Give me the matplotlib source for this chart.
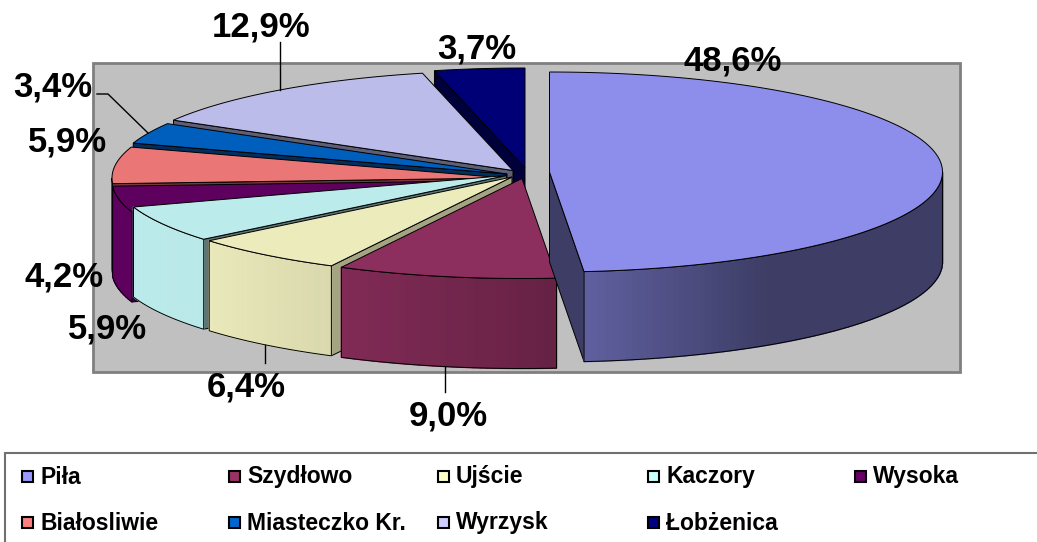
import numpy as np
import matplotlib
matplotlib.use("Agg")
import matplotlib.pyplot as plt
from matplotlib.patches import Polygon, Rectangle
from matplotlib.collections import PolyCollection
from matplotlib.colors import to_rgb

names = ['Piła', 'Szydłowo', 'Ujście', 'Kaczory', 'Wysoka', 'Białosliwie', 'Miasteczko Kr.', 'Wyrzysk', 'Łobżenica']
values = [48.6, 9.0, 6.4, 5.9, 4.2, 5.9, 3.4, 12.9, 3.7]
colors = ['#9999FF', '#993366', '#FFFFCC', '#CCFFFF', '#660066', '#FF8080', '#0066CC', '#CCCCFF', '#000080']

# pie geometry in pixels
cx, cy = 513, 172
rx, ry = 393, 100
depth = 90
offs_x = [36.5, 9, -1, -6.5, -8, -8, -6, 0, 12]
offs_y = [0, 6.5, 5, 3.5, 8.5, 6, 2, -1.5, -4]
cut_shade = [0.43, 0.7, 0.7, 0.5, 0.5, 0.5, 0.5, 0.5, 0.5]

label_x = [733, 448, 246, 108, 64, 68, 53, 261, 477]
label_y = [61, 416, 387, 329, 277, 142, 87, 27, 49]

plt.rcParams['font.family'] = ['Liberation Sans', 'DejaVu Sans']
fig = plt.figure(figsize=(10.37, 5.42), dpi=100)
ax = fig.add_axes([0, 0, 1, 1])
ax.set_xlim(0, 1037)
ax.set_ylim(542, 0)
ax.axis('off')

ax.add_patch(Rectangle((93, 63), 866.5, 309, fc='#C0C0C0', ec='#808080', lw=2, zorder=1))


def rim_shade(x):
    return np.interp(x, [130, 210, 335, 555, 770, 945], [1, 0.99, 0.92, 0.72, 0.43, 0.43])


def arc(x0, y0, a0, a1, step=1.0):
    n = max(int(abs(a1 - a0) / step), 2)
    t = np.radians(np.linspace(a0, a1, n + 1))
    return x0 + rx * np.sin(t), y0 - ry * np.cos(t)


edges = np.concatenate([[0], np.cumsum(values)]) / sum(values) * 360
z = 2
for i in range(len(values) - 1, -1, -1):
    a0, a1 = edges[i], edges[i + 1]
    x0, y0 = cx + offs_x[i], cy + offs_y[i]
    top = np.array(to_rgb(colors[i])) * 0.92

    # only the cut face turned to the viewer gets drawn
    cuts = []
    if a0 >= 180:
        cuts.append(a0)
    if a1 <= 180:
        cuts.append(a1)
    for a in cuts:
        xe, ye = arc(x0, y0, a, a, 1)
        xe, ye = xe[0], ye[0]
        pts = [(x0, y0), (xe, ye), (xe, ye + depth), (x0, y0 + depth)]
        ax.add_patch(Polygon(pts, fc=top * cut_shade[i], ec='black', lw=0.7, zorder=z))
    z += 1

    # outer wall, only the front half shows
    lo, hi = max(a0, 90), min(a1, 270)
    if hi > lo:
        xs, ys = arc(x0, y0, lo, hi)
        quads = []
        shades = []
        for k in range(len(xs) - 1):
            quads.append([(xs[k], ys[k]), (xs[k + 1], ys[k + 1]),
                          (xs[k + 1], ys[k + 1] + depth), (xs[k], ys[k] + depth)])
            shades.append(top * rim_shade((xs[k] + xs[k + 1]) / 2))
        ax.add_collection(PolyCollection(quads, facecolors=shades, edgecolors=shades, linewidths=1.0, zorder=z))
        z += 1
        outline = list(zip(xs, ys)) + list(zip(xs[::-1], ys[::-1] + depth))
        ax.add_patch(Polygon(outline, fc='none', ec='black', lw=0.7, zorder=z))
        z += 1

    xs, ys = arc(x0, y0, a0, a1)
    pts = [(x0, y0)] + list(zip(xs, ys))
    ax.add_patch(Polygon(pts, fc=top, ec='black', lw=0.7, zorder=z))
    z += 1

# leader lines
ax.plot([280, 280], [42, 90], color='black', lw=1, zorder=z)
ax.plot([97, 108, 148], [94, 94, 133], color='black', lw=1, zorder=z)
ax.plot([265, 265], [345, 363], color='black', lw=1, zorder=z)
ax.plot([445, 445], [367, 392], color='black', lw=1, zorder=z)

for i in range(len(values)):
    txt = f'{values[i]:.1f}%'.replace('.', ',')
    ax.text(label_x[i], label_y[i], txt, fontsize=25, fontweight='bold', color='black',
            ha='center', va='center', zorder=z + 1)

# legend
ax.add_patch(Rectangle((5, 453), 1040, 100, fc='white', ec='#707070', lw=1.5, zorder=z))
col_x = [22, 229, 438, 648, 855]
row_y = [476, 522]
for i, name in enumerate(names):
    x = col_x[i % 5]
    y = row_y[i // 5]
    ax.add_patch(Rectangle((x, y - 5.5), 11, 11, fc=colors[i], ec='black', lw=1.5, zorder=z + 1))
    ax.text(x + 18, y + 7.5, name, fontsize=16.5, fontweight='bold', color='black',
            ha='left', va='baseline', zorder=z + 1)

fig.savefig('out.png', dpi=100)
